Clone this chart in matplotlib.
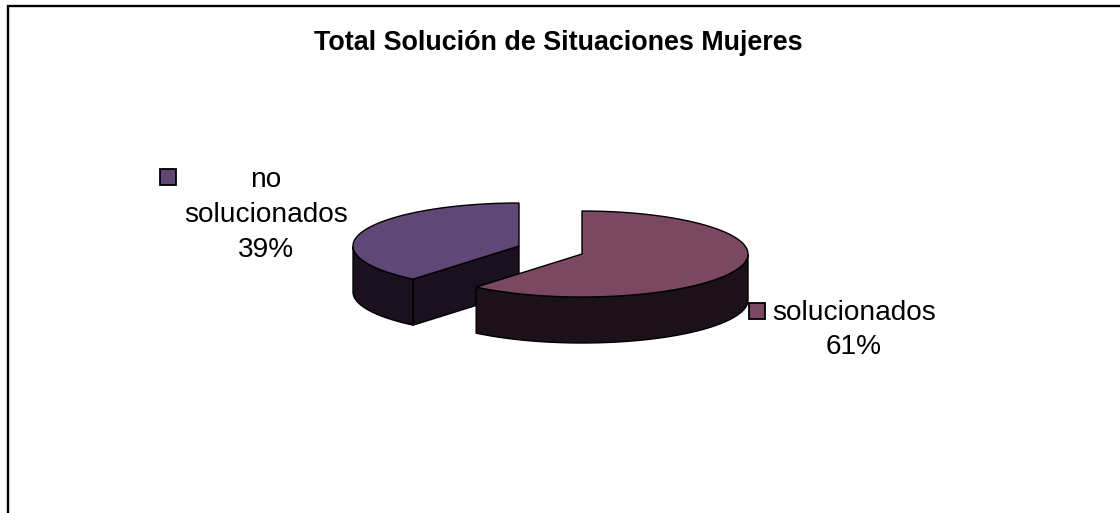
import numpy as np
import matplotlib
matplotlib.use("Agg")
import matplotlib.pyplot as plt
from matplotlib.patches import Polygon, Rectangle

plt.rcParams["font.family"] = ["Liberation Sans", "DejaVu Sans"]

title = "Total Solución de Situaciones Mujeres"
categories = ["solucionados", "no\nsolucionados"]
percents = [61, 39]
top_colors = ["#7B4861", "#5F4776"]
side_colors = ["#1C1118", "#1A1020"]

W, H = 1120, 513
RX, RY = 166, 43     # ellipse radii of the pie
DEPTH = 46           # thickness

# centres of the two exploded slices
centers = [(582, 254), (519, 246)]


def ellipse_pts(cx, cy, a0, a1, n=120):
    # angles clockwise from 12 o'clock, in degrees
    t = np.radians(np.linspace(a0, a1, n))
    return np.column_stack([cx + RX * np.sin(t), cy - RY * np.cos(t)])


fig = plt.figure(figsize=(W / 100, H / 100), dpi=100)
ax = fig.add_axes([0, 0, 1, 1])
ax.set_xlim(0, W)
ax.set_ylim(H, 0)
ax.axis("off")

# outer frame: left side and top only
ax.plot([8, 8, W + 2], [H + 2, 5.5, 5.5], color="black", lw=1.7, zorder=1,
        solid_joinstyle="miter")

start = 0
spans = []
for p in percents:
    spans.append((start, start + p * 3.6))
    start += p * 3.6

# draw back slice first so the front one overlaps it
for i in [1, 0]:
    a0, a1 = spans[i]
    cx, cy = centers[i]
    z = 3 if i == 0 else 2
    rim = ellipse_pts(cx, cy, a0, a1)
    # only the part of the rim facing the viewer gets a wall
    ang = np.degrees(np.arctan2((rim[:, 0] - cx) / RX, -(rim[:, 1] - cy) / RY)) % 360
    front = rim[(ang >= 90) & (ang <= 270)]
    if i == 1:
        # cut face running from the centre to the rim
        edge = rim[0]
        face = [(cx, cy), tuple(edge), (edge[0], edge[1] + DEPTH), (cx, cy + DEPTH)]
        ax.add_patch(Polygon(face, closed=True, fc=side_colors[i], ec="black", lw=1, zorder=z))
    wall = np.vstack([front, (front + [0, DEPTH])[::-1]])
    ax.add_patch(Polygon(wall, closed=True, fc=side_colors[i], ec="black", lw=1, zorder=z))
    top = np.vstack([[cx, cy], rim])
    ax.add_patch(Polygon(top, closed=True, fc=top_colors[i], ec="black", lw=1, zorder=z + 0.5))

ax.text(558, 43, title, ha="center", va="center", fontsize=19.4, fontweight="bold", zorder=5)

# data labels with their legend keys
for i, (key_xy, text_xy) in enumerate([((757, 311), (854, 330)), ((168, 177), (266, 215))]):
    ax.add_patch(Rectangle((key_xy[0] - 8, key_xy[1] - 8), 16, 16, fc=top_colors[i],
                           ec="black", lw=1.3, zorder=5))
    ax.text(text_xy[0], text_xy[1], f"{categories[i]}\n{percents[i]}%", ha="center", va="center",
            fontsize=20.2, linespacing=1.45, zorder=5)

fig.savefig("out.png", dpi=100)
